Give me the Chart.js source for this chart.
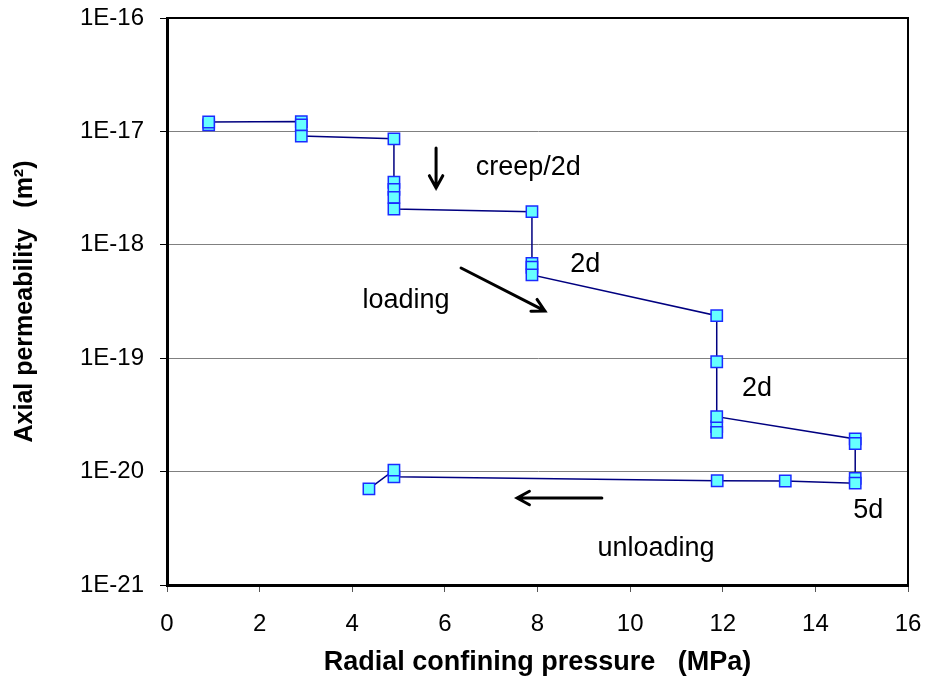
<!DOCTYPE html>
<html lang="en">
<head>
  <meta charset="UTF-8">
  <title>Axial permeability vs radial confining pressure</title>
  <script src="https://cdn.jsdelivr.net/npm/chart.js"></script>
  <style>
    body { margin: 0; background: #fff; }
    #permChart { display: block; }
  </style>
</head>
<body>
  <canvas id="permChart" width="926" height="684"></canvas>

  <script>
    // Measured points (MPa, m^2), in the order the curve is drawn.
    const pressure = [0.9, 0.9, 2.9, 2.9, 2.9, 4.9, 4.9, 4.9, 4.9, 4.9,
                      7.88, 7.88, 7.88, 7.88, 11.87, 11.87, 11.87, 11.87, 11.87,
                      14.86, 14.86, 14.86, 14.86, 13.35, 11.88, 4.9, 4.9, 4.36];
    const permeability = [1.14e-17, 1.21e-17, 1.22e-17, 1.14e-17, 9.1e-18,
                          8.6e-18, 3.56e-18, 3.08e-18, 2.62e-18, 2.07e-18,
                          1.96e-18, 6.87e-19, 6.34e-19, 5.42e-19,
                          2.37e-19, 9.3e-20, 2.49e-20, 2.22e-20, 3.05e-20,
                          1.94e-20, 1.77e-20, 8.7e-21, 7.9e-21,
                          8.26e-21, 8.3e-21, 9.0e-21, 1.03e-20, 7.03e-21];

    const yTickLabels = ["1E-21", "1E-20", "1E-19", "1E-18", "1E-17", "1E-16"];
    const yTickValues = [1e-21, 1e-20, 1e-19, 1e-18, 1e-17, 1e-16];

    // Notes on the plot, placed in data units (x centre, y baseline).
    const noteText = ["creep/2d", "2d", "loading", "2d", "5d", "unloading"];
    const noteX = [7.80, 9.03, 5.16, 12.74, 15.14, 10.56];
    const noteY = [4.13e-18, 5.79e-19, 2.77e-19, 4.65e-20, 3.9e-21, 1.8e-21];

    // Arrows: start -> end, in data units.
    const arrowFromX = [5.81, 6.35, 9.39];
    const arrowFromY = [7.15e-18, 6.24e-19, 5.85e-21];
    const arrowToX = [5.81, 8.16, 7.56];
    const arrowToY = [3.17e-18, 2.61e-19, 5.85e-21];

    const points = pressure.map((p, i) => ({ x: p, y: permeability[i] }));

    // Draws the frame, the notes and the arrows.
    const notesPlugin = {
      id: "notes",
      afterDatasetsDraw(chart) {
        const ctx = chart.ctx;
        const xs = chart.scales.x;
        const ys = chart.scales.y;
        const area = chart.chartArea;
        ctx.save();

        // top and right frame
        ctx.strokeStyle = "#000";
        ctx.lineWidth = 2;
        ctx.beginPath();
        ctx.moveTo(area.left, area.top);
        ctx.lineTo(area.right, area.top);
        ctx.lineTo(area.right, area.bottom);
        ctx.stroke();

        ctx.fillStyle = "#000";
        ctx.font = "27px 'Liberation Sans', Arial, sans-serif";
        ctx.textAlign = "center";
        ctx.textBaseline = "alphabetic";
        noteText.forEach((t, i) => {
          ctx.fillText(t, xs.getPixelForValue(noteX[i]), ys.getPixelForValue(noteY[i]));
        });

        ctx.lineWidth = 3;
        ctx.lineCap = "round";
        arrowFromX.forEach((fx, i) => {
          const x0 = xs.getPixelForValue(fx);
          const y0 = ys.getPixelForValue(arrowFromY[i]);
          const x1 = xs.getPixelForValue(arrowToX[i]);
          const y1 = ys.getPixelForValue(arrowToY[i]);
          const ang = Math.atan2(y1 - y0, x1 - x0);
          const head = 14;
          ctx.beginPath();
          ctx.moveTo(x0, y0);
          ctx.lineTo(x1, y1);
          ctx.moveTo(x1 - head * Math.cos(ang - 0.5), y1 - head * Math.sin(ang - 0.5));
          ctx.lineTo(x1, y1);
          ctx.lineTo(x1 - head * Math.cos(ang + 0.5), y1 - head * Math.sin(ang + 0.5));
          ctx.stroke();
        });
        ctx.restore();
      }
    };

    new Chart(document.getElementById("permChart"), {
      type: "line",
      data: {
        datasets: [{
          data: points,
          borderColor: "#000080",
          borderWidth: 1.5,
          tension: 0,
          fill: false,
          pointStyle: "rect",
          pointRadius: 8,
          pointHoverRadius: 8,
          pointBackgroundColor: "#66ffff",
          pointBorderColor: "#1a2cff",
          pointBorderWidth: 1.5
        }]
      },
      options: {
        responsive: false,
        animation: false,
        layout: { padding: { left: 0, top: 18, right: 18, bottom: 0 } },
        plugins: {
          legend: { display: false },
          tooltip: { enabled: false }
        },
        scales: {
          x: {
            type: "linear",
            min: 0,
            max: 16,
            afterFit(scale) {
              scale.height = 99;
              scale.paddingLeft = 0;
              scale.paddingRight = 0;
            },
            ticks: {
              stepSize: 2,
              color: "#000",
              padding: 18,
              font: { family: "'Liberation Sans', Arial, sans-serif", size: 24 }
            },
            grid: { drawOnChartArea: false, tickLength: 7, tickColor: "#555" },
            border: { display: true, color: "#000", width: 3 },
            title: {
              display: true,
              text: "Radial confining pressure   (MPa)",
              color: "#000",
              padding: { top: 0, bottom: 5 },
              font: { family: "'Liberation Sans', Arial, sans-serif", size: 27, weight: "bold" }
            }
          },
          y: {
            type: "logarithmic",
            min: 1e-21,
            max: 1e-16,
            afterFit(scale) {
              scale.width = 167;
              scale.paddingTop = 0;
              scale.paddingBottom = 0;
            },
            afterBuildTicks(scale) {
              scale.ticks = yTickValues.map(v => ({ value: v }));
            },
            ticks: {
              color: "#000",
              padding: 16,
              autoSkip: false,
              font: { family: "'Liberation Sans', Arial, sans-serif", size: 24 },
              callback: (value, index) => yTickLabels[index]
            },
            grid: { color: "#808080", lineWidth: 1, tickLength: 7, tickColor: "#000" },
            border: { display: true, color: "#000", width: 3 },
            title: {
              display: true,
              text: "Axial permeability   (m²)",
              color: "#000",
              padding: { top: 10, bottom: 0 },
              font: { family: "'Liberation Sans', Arial, sans-serif", size: 25, weight: "bold" }
            }
          }
        }
      },
      plugins: [notesPlugin]
    });
  </script>
</body>
</html>
